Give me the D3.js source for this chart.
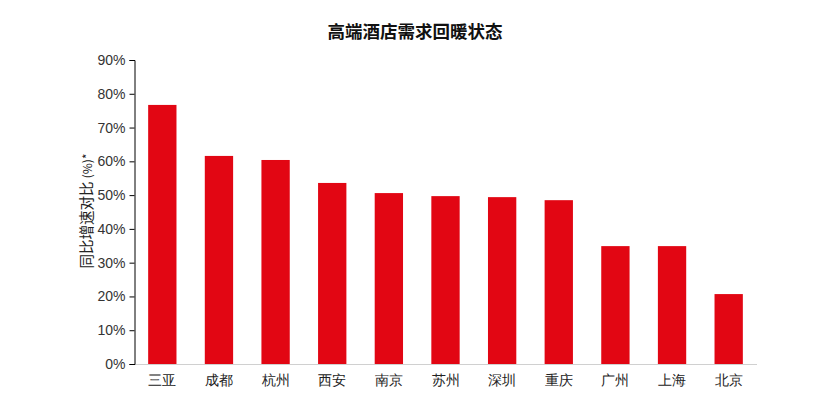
<!DOCTYPE html>
<html lang="zh">
<head>
  <meta charset="UTF-8">
  <title>高端酒店需求回暖状态</title>
  <script src="https://d3js.org/d3.v7.min.js"></script>
</head>
<body style="margin: 0; padding: 0; overflow: hidden; background: #fff;">
  <svg id="chart"></svg>

  <script>
    const cities = ['三亚', '成都', '杭州', '西安', '南京', '苏州', '深圳', '重庆', '广州', '上海', '北京'];
    const growth = [76.7, 61.6, 60.4, 53.6, 50.6, 49.7, 49.4, 48.5, 34.9, 34.9, 20.7];
    const yTicks = [0, 10, 20, 30, 40, 50, 60, 70, 80, 90];

    const width = 833, height = 417;
    const margin = { top: 60, right: 76, bottom: 53, left: 134 };

    const svg = d3.select('#chart')
      .attr('width', width)
      .attr('height', height)
      .style('font-family', '"Noto Sans CJK SC", "Liberation Sans", sans-serif');

    const x = d3.scaleBand()
      .domain(cities)
      .range([margin.left, width - margin.right])
      .paddingInner(0.5)
      .paddingOuter(0.25);

    const y = d3.scaleLinear()
      .domain([0, 90])
      .range([height - margin.bottom, margin.top]);

    // 标题
    svg.append('text')
      .attr('x', 415)
      .attr('y', 38)
      .attr('text-anchor', 'middle')
      .attr('font-size', '17.5px')
      .attr('font-weight', 'bold')
      .attr('fill', '#111')
      .text('高端酒店需求回暖状态');

    // 柱子
    svg.selectAll('.bar')
      .data(cities)
      .enter()
      .append('rect')
      .attr('class', 'bar')
      .attr('x', d => x(d))
      .attr('width', x.bandwidth())
      .attr('y', (d, i) => y(growth[i]))
      .attr('height', (d, i) => y(0) - y(growth[i]))
      .attr('fill', '#e20613');

    // 底线
    svg.append('line')
      .attr('x1', margin.left)
      .attr('x2', width - margin.right)
      .attr('y1', y(0) + 0.5)
      .attr('y2', y(0) + 0.5)
      .attr('stroke', '#d0d0d0')
      .attr('stroke-width', 1);

    // y 轴
    const yAxis = svg.append('g')
      .attr('transform', `translate(${margin.left + 0.5},0)`)
      .call(d3.axisLeft(y).tickValues(yTicks).tickFormat(d => d + '%').tickSize(5).tickPadding(4));
    yAxis.select('.domain').attr('stroke', '#000');
    yAxis.selectAll('.tick line').attr('stroke', '#000');
    yAxis.selectAll('.tick text')
      .attr('font-size', '14px')
      .attr('fill', '#333')
      .style('font-family', '"Liberation Sans Narrow", "Liberation Sans", sans-serif');

    // x 轴标签
    const xAxis = svg.append('g')
      .attr('transform', `translate(0,${y(0)})`)
      .call(d3.axisBottom(x).tickSize(0).tickPadding(11));
    xAxis.select('.domain').remove();
    xAxis.selectAll('.tick text')
      .attr('font-size', '14px')
      .attr('fill', '#222');

    // y 轴标题
    const yLabel = svg.append('text')
      .attr('transform', 'translate(92,211) rotate(-90)')
      .attr('text-anchor', 'middle')
      .attr('font-size', '14.5px')
      .attr('fill', '#222');
    yLabel.append('tspan').text('同比增速对比 ');
    yLabel.append('tspan').attr('font-size', '12px').text('(%)*');
  </script>
</body>
</html>
